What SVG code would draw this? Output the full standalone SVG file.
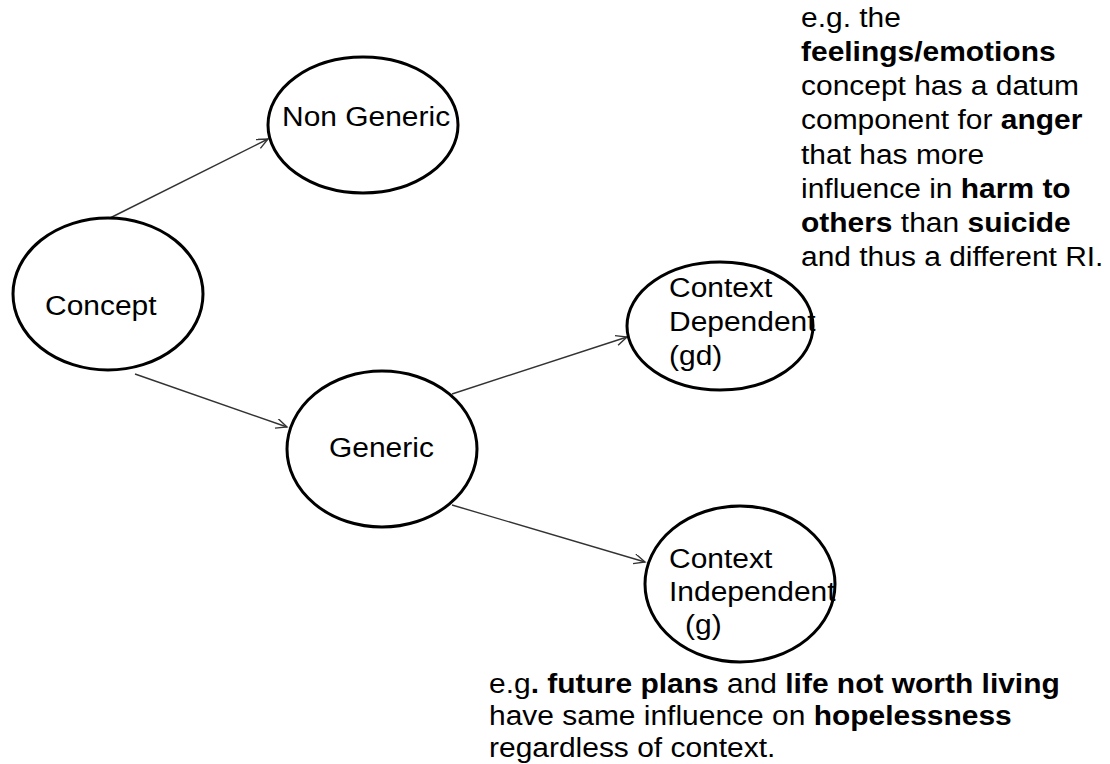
<svg xmlns="http://www.w3.org/2000/svg" width="1110" height="764" viewBox="0 0 1110 764">
  <style>
    .node { fill: #ffffff; stroke: #000000; stroke-width: 3; }
    .lbl { font-family: "Liberation Sans", Arial, sans-serif; font-size: 28px; fill: #000000; }
    .b { font-weight: bold; }
    .edge { stroke: #333333; stroke-width: 1.4; fill: none; marker-end: url(#open); }
  </style>
  <defs>
    <marker id="open" markerWidth="14" markerHeight="12" refX="12" refY="5" orient="auto" markerUnits="userSpaceOnUse">
      <path d="M1,0 L12,5 L1,10" fill="none" stroke="#333333" stroke-width="1.4"/>
    </marker>
  </defs>
  <rect width="1110" height="764" fill="#ffffff"/>

  <!-- connectors -->
  <g id="connectors">
    <line class="edge" x1="110" y1="218" x2="268" y2="139"/>
    <line class="edge" x1="135" y1="374" x2="287" y2="427"/>
    <line class="edge" x1="452" y1="394" x2="627" y2="337"/>
    <line class="edge" x1="452" y1="505" x2="645" y2="562"/>
  </g>

  <g id="concept">
    <ellipse class="node" cx="108" cy="294" rx="95" ry="76"/>
    <text class="lbl" transform="matrix(1.07 0 0 1 45 315)">Concept</text>
  </g>

  <g id="non-generic">
    <ellipse class="node" cx="363" cy="125" rx="95" ry="68"/>
    <text class="lbl" transform="matrix(1.07 0 0 1 282 126)">Non Generic</text>
  </g>

  <g id="generic">
    <ellipse class="node" cx="382" cy="449" rx="95" ry="78"/>
    <text class="lbl" transform="matrix(1.07 0 0 1 329 457)">Generic</text>
  </g>

  <g id="context-dependent">
    <ellipse class="node" cx="720" cy="326" rx="93" ry="64"/>
    <text class="lbl" transform="matrix(1.07 0 0 1 669 297)">
      <tspan x="0" y="0">Context</tspan>
      <tspan x="0" y="34">Dependent</tspan>
      <tspan x="0" y="68">(gd)</tspan>
    </text>
  </g>

  <g id="context-independent">
    <ellipse class="node" cx="740" cy="584" rx="95" ry="78"/>
    <text class="lbl" transform="matrix(1.07 0 0 1 669 568)">
      <tspan x="0" y="0">Context</tspan>
      <tspan x="0" y="33">Independent</tspan>
      <tspan x="15" y="66">(g)</tspan>
    </text>
  </g>

  <!-- annotation for context dependent concepts -->
  <g id="note-dependent">
    <text class="lbl" transform="matrix(1.07 0 0 1 801 27)">
      <tspan x="0" y="0">e.g. the</tspan>
      <tspan x="0" y="34" class="b">feelings/emotions</tspan>
      <tspan x="0" y="68">concept has a datum</tspan>
      <tspan x="0" y="102">component for <tspan class="b">anger</tspan></tspan>
      <tspan x="0" y="137">that has more</tspan>
      <tspan x="0" y="171">influence in <tspan class="b">harm to</tspan></tspan>
      <tspan x="0" y="205"><tspan class="b">others</tspan> than <tspan class="b">suicide</tspan></tspan>
      <tspan x="0" y="239">and thus a different RI.</tspan>
    </text>
  </g>

  <!-- annotation for context independent concepts -->
  <g id="note-independent">
    <text class="lbl" transform="matrix(1.07 0 0 1 489 693)">
      <tspan x="0" y="0">e.g<tspan class="b">. future plans</tspan> and <tspan class="b">life not worth living</tspan></tspan>
      <tspan x="0" y="32">have same influence on <tspan class="b">hopelessness</tspan></tspan>
      <tspan x="0" y="64">regardless of context.</tspan>
    </text>
  </g>
</svg>
